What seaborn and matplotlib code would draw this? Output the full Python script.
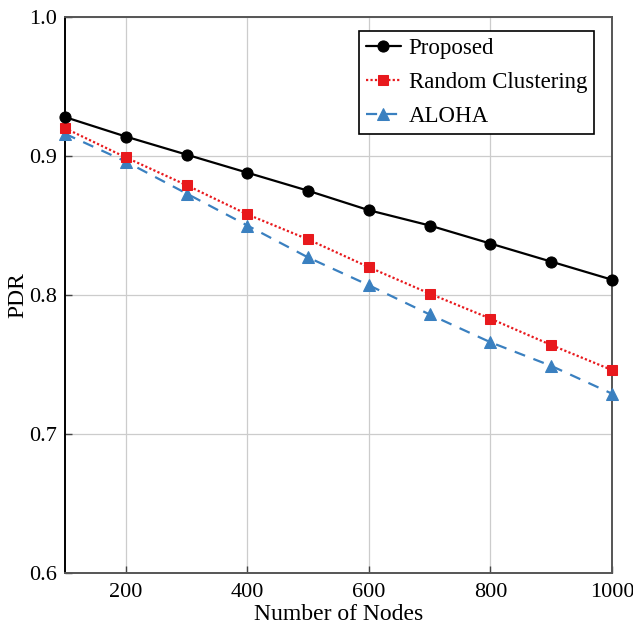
import pandas as pd
import matplotlib.pyplot as plt
import seaborn as sns

nodes = [100, 200, 300, 400, 500, 600, 700, 800, 900, 1000]
proposed = [0.928, 0.914, 0.901, 0.888, 0.875, 0.861, 0.850, 0.837, 0.824, 0.811]
random_clustering = [0.920, 0.899, 0.879, 0.858, 0.840, 0.820, 0.801, 0.783, 0.764, 0.746]
aloha = [0.916, 0.896, 0.873, 0.850, 0.827, 0.807, 0.786, 0.766, 0.749, 0.729]

df = pd.DataFrame({'nodes': nodes, 'Proposed': proposed,
                   'Random Clustering': random_clustering, 'ALOHA': aloha})

sns.set_style('whitegrid')
plt.rcParams['font.family'] = ['Liberation Serif', 'DejaVu Serif']
plt.rcParams['text.color'] = 'black'
plt.rcParams['axes.labelcolor'] = 'black'

fig = plt.figure(figsize=(6.33, 6.28), dpi=100)
ax = fig.add_axes([65 / 633, 55 / 628, 547 / 633, 556 / 628])

sns.lineplot(data=df, x='nodes', y='Proposed', ax=ax, color='black', linestyle='-',
             marker='o', markersize=8, markeredgecolor='black', linewidth=1.6,
             label='Proposed', clip_on=False, zorder=5)
sns.lineplot(data=df, x='nodes', y='Random Clustering', ax=ax, color='#e8191d', linestyle=(0, (1, 1)),
             marker='s', markersize=7.5, markeredgecolor='#e8191d', linewidth=1.6,
             label='Random Clustering', clip_on=False, zorder=4)
sns.lineplot(data=df, x='nodes', y='ALOHA', ax=ax, color='#3a80c0', linestyle=(0, (5, 4)),
             marker='^', markersize=8, markeredgecolor='#3a80c0', linewidth=1.6,
             label='ALOHA', clip_on=False, zorder=3)

ax.set_xlim(100, 1000)
ax.set_ylim(0.6, 1.0)
ax.set_xticks([200, 400, 600, 800, 1000])
ax.set_yticks([0.6, 0.7, 0.8, 0.9, 1.0])
ax.set_yticklabels(['0.6', '0.7', '0.8', '0.9', '1.0'])
ax.grid(True, color='#cccccc', linewidth=0.9)
ax.tick_params(axis='both', direction='in', length=5, width=1, color='#444444',
               labelsize=16, labelcolor='black', left=True, bottom=True, pad=6)
ax.tick_params(axis='x', pad=7)
for side in ['top', 'right', 'bottom']:
    ax.spines[side].set_color('#555555')
    ax.spines[side].set_linewidth(1.4)
ax.spines['left'].set_color('black')
ax.spines['left'].set_linewidth(1.4)
ax.set_xlabel('Number of Nodes', fontsize=17, labelpad=2)
ax.set_ylabel('PDR', fontsize=17, labelpad=0)

leg = ax.legend(loc='upper right', bbox_to_anchor=(0.967, 0.975), borderaxespad=0,
                fontsize=16.5, frameon=True, fancybox=False, edgecolor='black', framealpha=1,
                handlelength=1.5, borderpad=0.3, labelspacing=0.58, handletextpad=0.35)
leg.get_frame().set_linewidth(1.2)

fig.savefig('out.png', dpi=100)
